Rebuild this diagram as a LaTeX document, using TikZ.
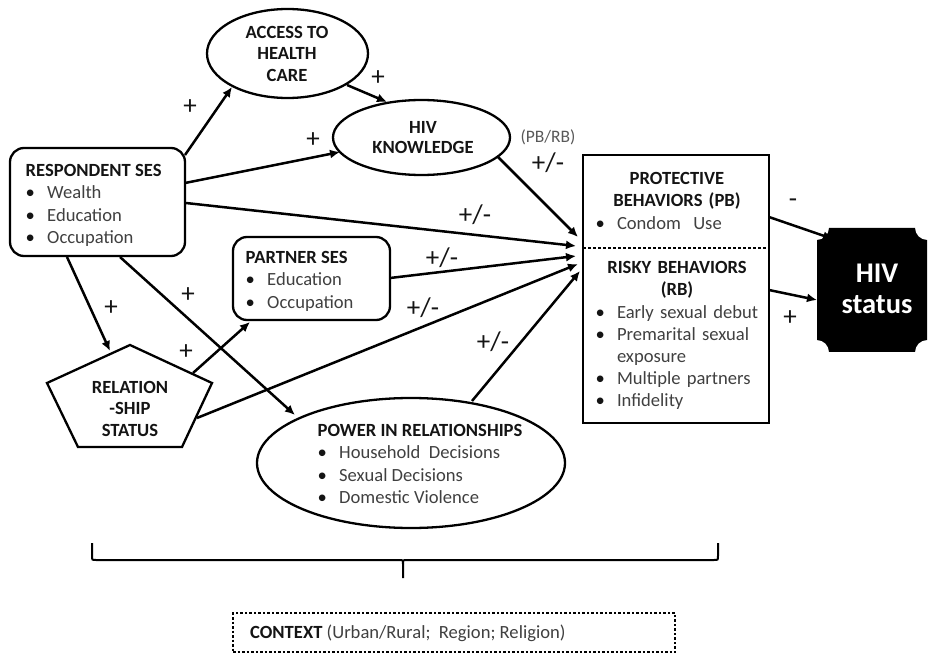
\documentclass[tikz,border=0pt]{standalone}
\usepackage{fontspec}
\setmainfont{Carlito}
\usetikzlibrary{arrows.meta,shapes.geometric}
\definecolor{bodytxt}{gray}{0.25}
\definecolor{hdtxt}{gray}{0.08}
\newcommand\bitem[1]{\makebox[21.5pt][l]{\textbullet}{\color{bodytxt}#1}}
\begin{document}
\begin{tikzpicture}[x=1pt,y=-1pt,
  shp/.style={draw, line width=2.3pt},
  rbox/.style={shp, rectangle, rounded corners=14pt, inner sep=0pt},
  ell/.style={shp, ellipse, inner sep=0pt},
  txt/.style={inner sep=0pt, font=\fontsize{18.6}{22.2}\selectfont, text=hdtxt},
  hdt/.style={txt, font=\fontsize{18.6}{21.5}\selectfont\bfseries, align=center, anchor=north},
  arr/.style={line width=2.5pt, -{Latex[length=10pt,width=9pt]}},
  sgn/.style={inner sep=0pt, font=\fontsize{27}{27}\selectfont, text=hdtxt},
  brace/.style={line width=2pt}
]
\useasboundingbox (0,0) rectangle (930,655);

% ---------- shapes ----------
\node[rbox, minimum width=175pt, minimum height=108pt] (ses) at (97.5,202) {};
\node[txt, anchor=north west, align=left] (sest) at (25.5,161)
  {\strut\textbf{RESPONDENT SES}\\\bitem{Wealth}\\\bitem{Education}\\\bitem{Occupation}};

\node[ell, minimum width=161pt, minimum height=89pt] (acc) at (287.5,53.5) {};
\node[hdt] (acct) at (287,23) {\strut ACCESS TO\\HEALTH\\CARE};

\node[ell, minimum width=177pt, minimum height=75pt] (hk) at (421.5,137.5) {};
\node[hdt, font=\fontsize{18.6}{20}\selectfont\bfseries] (hkt) at (423,119) {\strut HIV\\KNOWLEDGE};

\node[rbox, minimum width=157pt, minimum height=83pt] (ps) at (311.5,278.5) {};
\node[txt, anchor=north west, align=left] (pst) at (245.5,248)
  {\strut\textbf{PARTNER SES}\\\bitem{Education}\\\bitem{Occupation}};

\draw[shp, line join=miter] (130,345) -- (212,383) -- (182,447) -- (78,447) -- (47,383) -- cycle;
\node[hdt] (rel) at (130,378) {\strut RELATION\\-SHIP\\STATUS};

\node[ell, minimum width=308pt, minimum height=130pt] (pw) at (411,463) {};
\node[txt, anchor=north west, align=left] (pwt) at (317.5,421)
  {\strut\textbf{POWER IN RELATIONSHIPS}\\\bitem{Household~ Decisions}\\\bitem{Sexual Decisions}\\\bitem{Domestic Violence}};

\node[shp, rectangle, minimum width=186pt, minimum height=268pt, inner sep=0pt] (pb) at (676,289) {};
\coordinate (dl) at (583,248);
\coordinate (dr) at (769,248);
\draw[line width=1.1pt, dash pattern=on 3pt off 2pt] (dl) -- (dr);
\node[txt, anchor=north, text width=163pt, align=left] (pbt) at (677,169)
  {{\centering\strut\textbf{PROTECTIVE}\\\textbf{BEHAVIORS (PB)}\par}\bitem{Condom~ Use}};
\node[txt, anchor=north, text width=163pt, align=left] (rbt) at (677,258)
  {{\centering\strut\textbf{RISKY BEHAVIORS}\\\textbf{(RB)}\par}\bitem{Early sexual debut}\\\bitem{Premarital sexual}\\\hspace*{21.5pt}{\color{bodytxt}exposure}\\\bitem{Multiple partners}\\\bitem{Infidelity}};

\fill (829,228) -- (915,228) .. controls (915,234.6) and (920.4,240) .. (927,240)
  -- (927,340) .. controls (920.4,340) and (915,345.4) .. (915,352)
  -- (829,352) .. controls (829,345.4) and (823.6,340) .. (817,340)
  -- (817,240) .. controls (823.6,240) and (829,234.6) .. (829,228) -- cycle;
\node[txt, anchor=north, align=center, text=white, font=\fontsize{28.5}{31}\selectfont\bfseries] (hiv) at (877,260.3) {\strut HIV\\status};

% ---------- bracket and context ----------
\draw[brace] (92,543) -- (92,556) .. controls (92,560) .. (96,560) -- (399,560)
  .. controls (403,560) .. (403,564) -- (403,578);
\draw[brace] (718,543) -- (718,556) .. controls (718,560) .. (714,560) -- (407,560)
  .. controls (403,560) .. (403,564);
\node[draw, line width=2.5pt, dash pattern=on 2.5pt off 2pt, minimum width=442pt, minimum height=39pt, inner sep=0pt] (ctx) at (454,632.5) {};
\node[txt, anchor=base west] (ctxt) at (250,638) {\textbf{CONTEXT} {\color{bodytxt}(Urban/Rural;~ Region; Religion)}};

% ---------- connector end points ----------
\coordinate (s1) at (185,155);  \coordinate (acc1) at (232,87);
\coordinate (s2) at (185,183);  \coordinate (hk1) at (340,152);
\coordinate (s3) at (186,203);  \coordinate (pb3) at (576,246);
\coordinate (acc2) at (347,85); \coordinate (hk2) at (387,102);
\coordinate (hk3) at (498,157); \coordinate (pb5) at (578,237);
\coordinate (s6) at (67,257);   \coordinate (rel6) at (110,351);
\coordinate (s7) at (120,257);  \coordinate (pw7) at (295,415);
\coordinate (rel8) at (193,373);\coordinate (ps8) at (250,322);
\coordinate (ps9) at (390,278); \coordinate (pb9) at (576,256);
\coordinate (rel10) at (197,418);\coordinate (pb10) at (578,264);
\coordinate (pw11) at (472,401);\coordinate (pb11) at (580,271);
\coordinate (pb12) at (769,217);\coordinate (hiv12) at (833,239);
\coordinate (pb13) at (769,290);\coordinate (hiv13) at (817,300);

% ---------- connectors ----------
\draw[arr] (s1) -- (acc1);
\draw[arr] (s2) -- (hk1);
\draw[arr] (s3) -- (pb3);
\draw[arr] (acc2) -- (hk2);
\draw[arr] (hk3) -- (pb5);
\draw[arr] (s6) -- (rel6);
\draw[arr] (s7) -- (pw7);
\draw[arr] (rel8) -- (ps8);
\draw[arr] (ps9) -- (pb9);
\draw[arr] (rel10) -- (pb10);
\draw[arr] (pw11) -- (pb11);
\draw[arr] (pb12) -- (hiv12);
\draw[arr] (pb13) -- (hiv13);

% ---------- signs ----------
\node[sgn] (l1) at (190,107) {+};
\node[sgn] (l2) at (313,140) {+};
\node[sgn] (l4) at (378,78) {+};
\node[sgn] (l3) at (475,215) {+/-};
\node[inner sep=0pt, font=\fontsize{17.5}{17.5}\selectfont, text=black!65] (l5a) at (548,137) {(PB/RB)};
\node[sgn] (l5) at (548,163) {+/-};
\node[sgn] (l6) at (111,308) {+};
\node[sgn] (l7) at (188,295) {+};
\node[sgn] (l8) at (186,352) {+};
\node[sgn] (l9) at (442,258) {+/-};
\node[sgn] (l10) at (423,308) {+/-};
\node[sgn] (l11) at (493,342) {+/-};
\node[sgn] (l12) at (793,203) {-};
\node[sgn] (l13) at (790,318) {+};
\end{tikzpicture}
\end{document}
